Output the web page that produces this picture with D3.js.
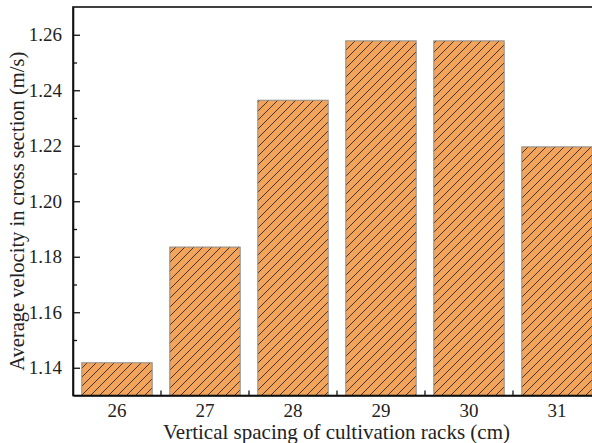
<!DOCTYPE html>
<html>
<head>
<meta charset="utf-8">
<script src="https://cdn.jsdelivr.net/npm/d3@7"></script>
<style>
  html, body { margin: 0; padding: 0; background: #fff; overflow: hidden; }
  svg { display: block; }
  svg text { font-family: "Liberation Serif", "Times New Roman", "DejaVu Serif", serif; fill: #222; }
</style>
</head>
<body>
<script>
// Rack spacing (cm) and the average cross-section velocity for each
const spacings = ["26", "27", "28", "29", "30", "31"];
const velocities = [1.1418, 1.1835, 1.2364, 1.2578, 1.2578, 1.2196];
const yTicks = [1.14, 1.16, 1.18, 1.20, 1.22, 1.24, 1.26];
const yMinorTicks = [1.15, 1.17, 1.19, 1.21, 1.23, 1.25];

const W = 610, H = 443;
const margin = { left: 73, top: 7, right: 9, bottom: 47.5 };
const serif = "'Liberation Serif', 'Times New Roman', 'DejaVu Serif', serif";
const tickFont = 19;

const svg = d3.select("body").append("svg")
  .attr("width", W).attr("height", H);

const x = d3.scaleBand()
  .domain(spacings)
  .range([margin.left, W - margin.right])
  .paddingInner(0.2).paddingOuter(0.1);

const y = d3.scaleLinear()
  .domain([1.13, 1.27])
  .range([H - margin.bottom, margin.top]);

// Diagonal hatch fill for the bars
const defs = svg.append("defs");
const hs = 9;
const pat = defs.append("pattern")
  .attr("id", "hatch")
  .attr("patternUnits", "userSpaceOnUse")
  .attr("width", hs).attr("height", hs);
pat.append("rect").attr("width", hs).attr("height", hs).attr("fill", "#F2A55A");
pat.append("path")
  .attr("d", `M-2,2 L2,-2 M0,${hs} L${hs},0 M${hs - 2},${hs + 2} L${hs + 2},${hs - 2}`)
  .attr("stroke", "#33241a").attr("stroke-width", 0.9);

const y0 = y.range()[0];
svg.append("g").selectAll("rect")
  .data(velocities)
  .join("rect")
  .attr("x", (d, i) => x(spacings[i]))
  .attr("y", d => y(d))
  .attr("width", x.bandwidth())
  .attr("height", d => y0 - y(d))
  .attr("fill", "url(#hatch)")
  .attr("stroke", "#8c8c8c")
  .attr("stroke-width", 1);

// Frame
svg.append("rect")
  .attr("x", margin.left).attr("y", margin.top)
  .attr("width", W - margin.right - margin.left)
  .attr("height", y0 - margin.top)
  .attr("fill", "none").attr("stroke", "#111").attr("stroke-width", 1.6);

// Y axis with inward ticks
const yAxis = d3.axisLeft(y)
  .tickValues(yTicks)
  .tickFormat(d3.format(".2f"))
  .tickSizeInner(-7).tickSizeOuter(0).tickPadding(11);
const gy = svg.append("g")
  .attr("transform", `translate(${margin.left},0)`)
  .call(yAxis)
  .attr("font-family", serif).attr("font-size", tickFont);
gy.select(".domain").attr("stroke", "#111").attr("stroke-width", 1.6);
gy.selectAll(".tick line").attr("stroke", "#111").attr("stroke-width", 1.3);
gy.selectAll("text").style("font-size", tickFont + "px").attr("fill", "#222");

const gyMinor = svg.append("g")
  .attr("transform", `translate(${margin.left},0)`)
  .call(d3.axisLeft(y).tickValues(yMinorTicks).tickFormat("").tickSizeInner(-4).tickSizeOuter(0));
gyMinor.select(".domain").remove();
gyMinor.selectAll(".tick line").attr("stroke", "#111").attr("stroke-width", 1.3);

// X axis: labels at band centres, small inward ticks between bands
const xAxis = d3.axisBottom(x).tickSize(0).tickPadding(8);
const gx = svg.append("g")
  .attr("transform", `translate(0,${y0})`)
  .call(xAxis)
  .attr("font-family", serif).attr("font-size", tickFont);
gx.select(".domain").attr("stroke", "#111").attr("stroke-width", 1.6);
gx.selectAll("text").style("font-size", tickFont + "px").attr("fill", "#222");

const bounds = spacings.slice(1).map(s => x(s) - x.step() * x.paddingInner() / 2);
svg.append("g").selectAll("line")
  .data(bounds)
  .join("line")
  .attr("x1", d => d).attr("x2", d => d)
  .attr("y1", y0).attr("y2", y0 - 5)
  .attr("stroke", "#111").attr("stroke-width", 1.3);

// Axis titles
svg.append("text")
  .attr("x", 336.5)
  .attr("y", 439)
  .attr("text-anchor", "middle")
  .style("font-size", "21px")
  .text("Vertical spacing of cultivation racks (cm)");

svg.append("text")
  .attr("transform", `translate(24,${(margin.top + y0) / 2 + 10}) rotate(-90)`)
  .attr("text-anchor", "middle")
  .style("font-size", "20.5px")
  .text("Average velocity in cross section (m/s)");
</script>
</body>
</html>
